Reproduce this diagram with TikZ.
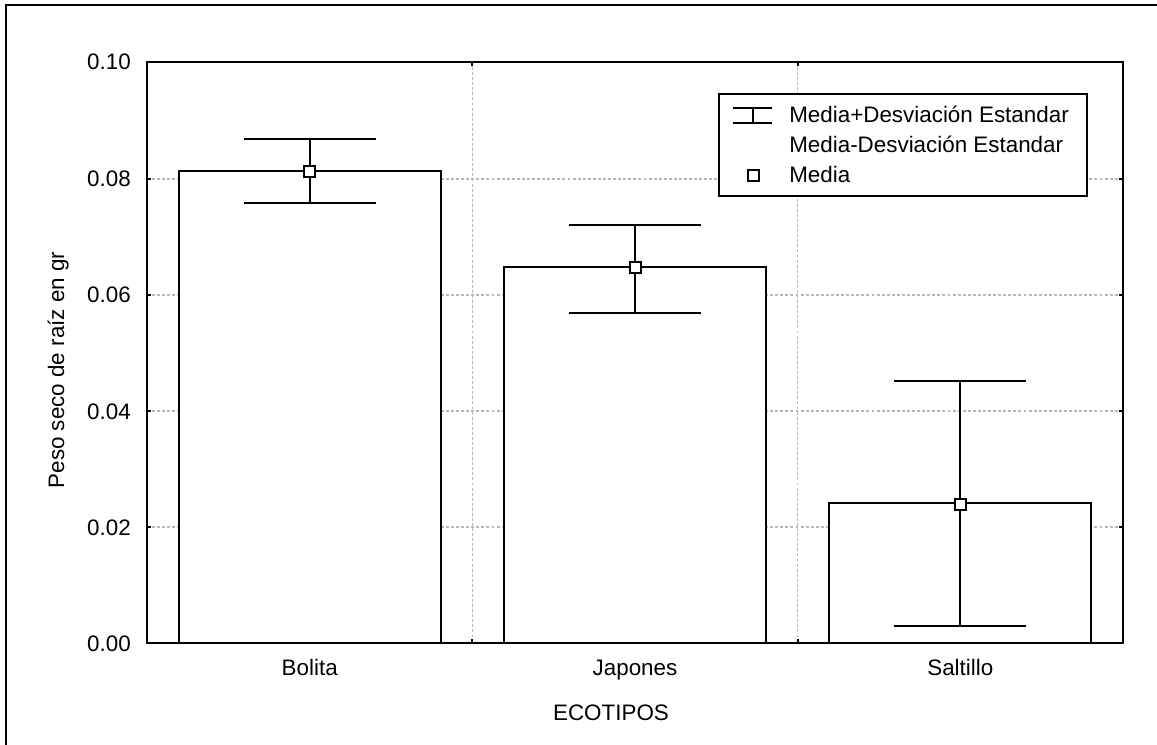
\documentclass[tikz,border=0pt]{standalone}
\usepackage{fontspec}
\setmainfont{Liberation Sans}
\begin{document}
\begin{tikzpicture}[x=0.75pt,y=-0.75pt,
  txt/.style={font=\fontsize{16.8}{20}\selectfont, inner sep=0pt},
  gridline/.style={draw=black!28, line width=1.1pt, dash pattern=on 2.2pt off 1.6pt},
  frameline/.style={line width=1.5pt},
  barbox/.style={draw=black, fill=white, line width=1.5pt},
  errline/.style={line width=1.5pt},
  tickline/.style={line width=1.5pt},
  meanmark/.style={draw=black, fill=white, line width=1.5pt, rectangle, minimum size=8.25pt, inner sep=0pt}]
\useasboundingbox (0,0) rectangle (1157,745);
% outer frame
\draw[frameline] (6,745) -- (6,5) -- (1157,5);
% grid
\foreach \yy in {179,295,411,527} \draw[gridline] (147,\yy) -- (1123,\yy);
\foreach \xx in {472.3,797.7} \draw[gridline] (\xx,62) -- (\xx,643);
% bars
\draw[barbox] (178.7,643) rectangle (440.7,171);
\draw[barbox] (504,643) rectangle (766,267);
\draw[barbox] (829.3,643) rectangle (1091.3,503);
% error bars
\draw[errline] (243.7,139) -- (375.7,139) (309.7,139) -- (309.7,203) (243.7,203) -- (375.7,203);
\draw[errline] (569,225) -- (701,225) (635,225) -- (635,313) (569,313) -- (701,313);
\draw[errline] (894.3,381) -- (1026.3,381) (960.3,381) -- (960.3,626) (894.3,626) -- (1026.3,626);
% means
\node[meanmark] (m1) at (309.7,171.5) {};
\node[meanmark] (m2) at (635,268) {};
\node[meanmark] (m3) at (960.3,504) {};
% plot frame and ticks
\draw[frameline] (147,62) rectangle (1123,643);
\foreach \yy in {179,295,411,527} {
  \draw[tickline] (147,\yy) -- (151,\yy);
  \draw[tickline] (1123,\yy) -- (1119,\yy);
}
\foreach \xx in {472.3,797.7} {
  \draw[tickline] (\xx,62) -- (\xx,66);
  \draw[tickline] (\xx,643) -- (\xx,639);
}
% y tick labels
\node[txt, anchor=base east] (t0) at (131,651) {0.00};
\node[txt, anchor=base east] (t1) at (131,535) {0.02};
\node[txt, anchor=base east] (t2) at (131,419) {0.04};
\node[txt, anchor=base east] (t3) at (131,303) {0.06};
\node[txt, anchor=base east] (t4) at (131,187) {0.08};
\node[txt, anchor=base east] (t5) at (131,70) {0.10};
% category labels
\node[txt, anchor=base] (c1) at (309.7,675) {Bolita};
\node[txt, anchor=base] (c2) at (635,675) {Japones};
\node[txt, anchor=base] (c3) at (960.3,675) {Saltillo};
% axis titles
\node[txt, anchor=base] (xt) at (611,720) {ECOTIPOS};
\node[txt, anchor=base, rotate=90] (yt) at (64,370) {Peso seco de raíz en gr};
% legend
\draw[fill=white, line width=1.5pt] (719,94) rectangle (1087,196);
\draw[errline] (733,108) -- (772,108) (752.5,108) -- (752.5,123) (733,123) -- (772,123);
\node[meanmark] (lm) at (753,176) {};
\node[txt, anchor=base west] (l1) at (789,123) {Media+Desviación Estandar};
\node[txt, anchor=base west] (l2) at (789,153) {Media-Desviación Estandar};
\node[txt, anchor=base west] (l3) at (789,183) {Media};
\end{tikzpicture}
\end{document}
